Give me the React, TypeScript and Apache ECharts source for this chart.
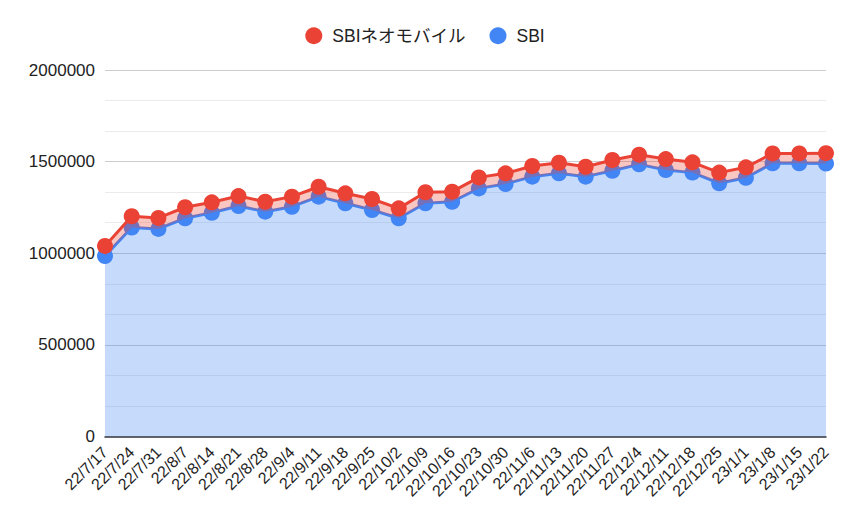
import React, { useEffect, useRef } from "react";
import * as echarts from "echarts";

const categories = [
  "22/7/17", "22/7/24", "22/7/31", "22/8/7", "22/8/14", "22/8/21", "22/8/28",
  "22/9/4", "22/9/11", "22/9/18", "22/9/25", "22/10/2", "22/10/9", "22/10/16",
  "22/10/23", "22/10/30", "22/11/6", "22/11/13", "22/11/20", "22/11/27",
  "22/12/4", "22/12/11", "22/12/18", "22/12/25", "23/1/1", "23/1/8", "23/1/15", "23/1/22",
];

const sbi = [
  985000, 1140000, 1133000, 1191000, 1221000, 1258000, 1227000,
  1254000, 1309000, 1273000, 1236000, 1191000, 1273000, 1281000,
  1354000, 1378000, 1418000, 1436000, 1418000, 1450000,
  1485000, 1454000, 1440000, 1382000, 1412000, 1491000, 1491000, 1490000,
];

const sbiNeomobile = [
  55000, 62000, 60000, 60000, 57000, 54000, 54000,
  55000, 54000, 54000, 60000, 54000, 60000, 55000,
  60000, 58000, 58000, 58000, 54000, 59000,
  53000, 60000, 56000, 58000, 57000, 54000, 54000, 56000,
];

const legendNames = ["SBIネオモバイル", "SBI"];
const yMin = 0;
const yMax = 2000000;
const yInterval = 500000;

const FONT = "Arial, 'Liberation Sans', 'Noto Sans CJK JP', sans-serif";
const RED = "#ea4335";
const BLUE = "#4285f4";

export default function App() {
  const ref = useRef<HTMLDivElement>(null);

  useEffect(() => {
    if (!ref.current) return;
    const chart = echarts.init(ref.current, undefined, { renderer: "svg" });
    chart.setOption({
      animation: false,
      backgroundColor: "#ffffff",
      textStyle: { fontFamily: FONT },
      legend: {
        data: legendNames,
        top: 22,
        left: "center",
        icon: "circle",
        itemWidth: 17,
        itemHeight: 17,
        itemGap: 24,
        textStyle: {
          fontSize: 17.5,
          color: "#222222",
          fontFamily: FONT,
          padding: [0, 0, 0, 5],
        },
      },
      grid: { left: 105, right: 24, top: 70, bottom: 86.5, containLabel: false },
      xAxis: {
        type: "category",
        data: categories,
        boundaryGap: false,
        axisLine: { show: true, lineStyle: { color: "#333333", width: 1.5 } },
        axisTick: { show: false },
        axisLabel: {
          rotate: 45,
          interval: 0,
          fontSize: 16,
          color: "#222222",
          margin: 13,
          fontFamily: FONT,
        },
        splitLine: { show: false },
      },
      yAxis: {
        type: "value",
        min: yMin,
        max: yMax,
        interval: yInterval,
        axisLine: { show: false },
        axisTick: { show: false },
        axisLabel: {
          fontSize: 17,
          color: "#222222",
          margin: 10,
          fontFamily: FONT,
          formatter: (v: number) => String(v),
        },
        splitLine: { show: true, lineStyle: { color: "#cccccc", width: 1 } },
        minorTick: { show: false, splitNumber: 3 },
        minorSplitLine: { show: true, lineStyle: { color: "#ebebeb", width: 1 } },
      },
      series: [
        {
          name: "SBI",
          type: "line",
          stack: "total",
          data: sbi,
          color: BLUE,
          symbol: "circle",
          symbolSize: 16,
          showSymbol: true,
          lineStyle: { color: BLUE, width: 3 },
          itemStyle: { color: BLUE },
          areaStyle: { color: BLUE, opacity: 0.3 },
          z: 2,
        },
        {
          name: "SBIネオモバイル",
          type: "line",
          stack: "total",
          data: sbiNeomobile,
          color: RED,
          symbol: "circle",
          symbolSize: 16,
          showSymbol: true,
          lineStyle: { color: RED, width: 3 },
          itemStyle: { color: RED },
          areaStyle: { color: RED, opacity: 0.3 },
          z: 3,
        },
      ],
    });
    return () => chart.dispose();
  }, []);

  return (
    <div
      ref={ref}
      style={{ position: "absolute", left: 0, top: 0, width: 850, height: 523 }}
    />
  );
}
